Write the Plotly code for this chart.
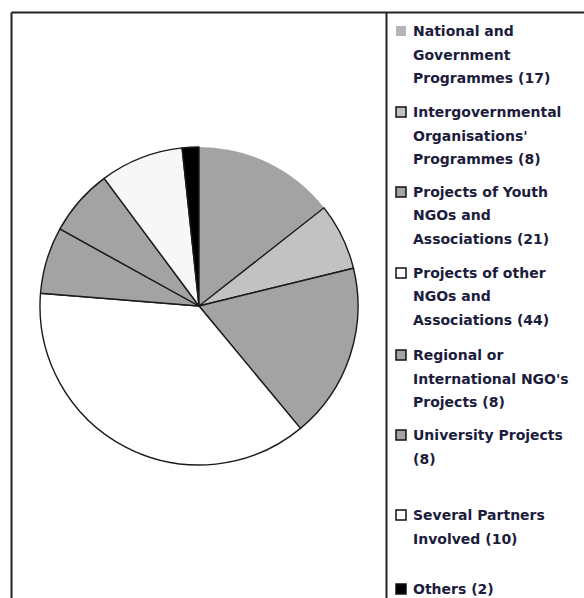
import plotly.graph_objects as go

W, H = 584, 598

# ---- data ----
labels = [
    "National and Government Programmes",
    "Intergovernmental Organisations' Programmes",
    "Projects of Youth NGOs and Associations",
    "Projects of other NGOs and Associations",
    "Regional or International NGO's Projects",
    "University Projects",
    "Several Partners Involved",
    "Others",
]
values = [17, 8, 21, 44, 8, 8, 10, 2]
legend_lines = [
    ["National and", "Government", "Programmes (17)"],
    ["Intergovernmental", "Organisations'", "Programmes (8)"],
    ["Projects of Youth", "NGOs and", "Associations (21)"],
    ["Projects of other", "NGOs and", "Associations (44)"],
    ["Regional or", "International NGO's", "Projects (8)"],
    ["University Projects", "(8)"],
    ["Several Partners", "Involved (10)"],
    ["Others (2)"],
]
slice_colors = ["#a3a3a3", "#c2c2c2", "#a3a3a3", "#ffffff", "#a3a3a3", "#a3a3a3", "#f7f7f7", "#000000"]
slice_line_w = [0, 1.4, 1.4, 1.4, 1.4, 1.4, 1.4, 1.4]
legend_colors = ["#b4b4b4", "#c2c2c2", "#a3a3a3", "#ffffff", "#a3a3a3", "#a3a3a3", "#ffffff", "#000000"]
legend_border = [False, True, True, True, True, True, True, True]


def px(x):
    return x / W


def py(y):
    return 1 - y / H


cx, cy, r = 199, 306, 159

fig = go.Figure(
    go.Pie(
        labels=labels,
        values=values,
        sort=False,
        direction="clockwise",
        rotation=0,
        textinfo="none",
        hoverinfo="label+value",
        marker=dict(colors=slice_colors, line=dict(color="#1a1a1a", width=slice_line_w)),
        domain=dict(x=[px(cx - r), px(cx + r)], y=[py(cy + r), py(cy - r)]),
        showlegend=False,
    )
)

shapes = [
    # outer frame (left and top edges) and divider
    dict(type="line", xref="paper", yref="paper", x0=px(11.5), x1=px(11.5), y0=py(12.5), y1=0,
         line=dict(color="#222222", width=2)),
    dict(type="line", xref="paper", yref="paper", x0=px(11.5), x1=1, y0=py(12.5), y1=py(12.5),
         line=dict(color="#222222", width=2)),
    dict(type="line", xref="paper", yref="paper", x0=px(386.5), x1=px(386.5), y0=py(12.5), y1=0,
         line=dict(color="#222222", width=2)),
]
annotations = []

item_tops = [31, 112, 192, 273, 355, 435, 515, 589]
line_step = 23.5
text_x = 411
for i, lines in enumerate(legend_lines):
    y0 = item_tops[i]
    shapes.append(dict(
        type="rect", xref="paper", yref="paper",
        x0=px(396), x1=px(406), y0=py(y0 + 5), y1=py(y0 - 5),
        fillcolor=legend_colors[i],
        line=dict(color="#111111" if legend_border[i] else legend_colors[i], width=1.5 if legend_border[i] else 0),
    ))
    for j, t in enumerate(lines):
        annotations.append(dict(
            text=t, xref="paper", yref="paper", x=px(text_x), y=py(y0 + j * line_step),
            xanchor="left", yanchor="middle", showarrow=False,
            font=dict(family="DejaVu Sans", size=14, color="#1c1c3c", weight="bold"),
        ))

fig.update_layout(
    width=W, height=H,
    margin=dict(l=0, r=0, t=0, b=0),
    paper_bgcolor="white", plot_bgcolor="white",
    shapes=shapes, annotations=annotations,
)

fig.write_html("out.html")
